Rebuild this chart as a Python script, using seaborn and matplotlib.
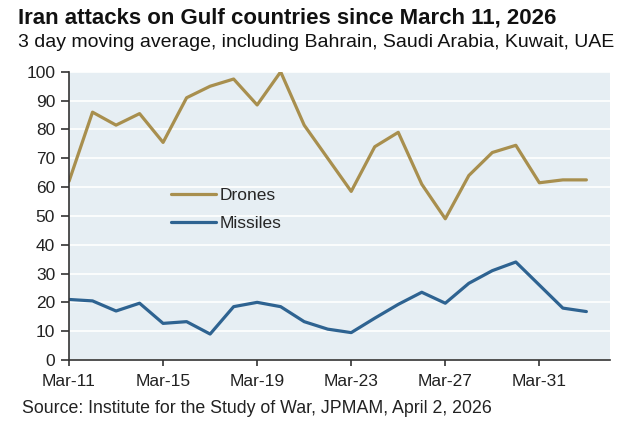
import pandas as pd
import matplotlib
matplotlib.use("Agg")
import matplotlib.pyplot as plt
import matplotlib.dates as mdates
import seaborn as sns

# daily values, Mar 11 - Apr 2 2026 (3 day moving average)
dates = pd.date_range("2026-03-11", "2026-04-02", freq="D")
drones = [62, 86, 81.5, 85.5, 75.5, 91, 95, 97.5, 88.5, 100, 81.5, 70,
          58.5, 74, 79, 61, 49, 64, 72, 74.5, 61.5, 62.5, 62.5]
missiles = [21, 20.5, 17, 19.7, 12.7, 13.3, 9, 18.5, 20, 18.5, 13.3, 10.7,
            9.5, 14.5, 19.3, 23.5, 19.7, 26.6, 31, 34, 26, 18, 16.8]
tick_dates = dates[::4]

df = pd.DataFrame({"date": list(dates) * 2,
                   "value": drones + missiles,
                   "series": ["Drones"] * len(dates) + ["Missiles"] * len(dates)})

sns.set_theme(style="white")
plt.rcParams["font.family"] = ["Liberation Sans", "DejaVu Sans"]

fig = plt.figure(figsize=(6.42, 4.25), dpi=100)
ax = fig.add_axes([0.1075, 0.153, 0.8425, 0.678])

sns.lineplot(data=df, x="date", y="value", hue="series",
             palette={"Drones": "#a88f4e", "Missiles": "#2e6391"},
             linewidth=2.3, ax=ax)

ax.set_facecolor("#e6eef3")
ax.set_ylim(0, 100)
ax.set_yticks(range(0, 101, 10))
ax.set_xlim(dates[0], dates[-1] + pd.Timedelta(days=1))
ax.set_xticks(tick_dates)
ax.xaxis.set_major_formatter(mdates.DateFormatter("%b-%d"))
ax.grid(axis="y", color="white", linewidth=1.2)
ax.set_axisbelow(True)
ax.set_xlabel("")
ax.set_ylabel("")

for s in ["top", "right"]:
    ax.spines[s].set_visible(False)
for s in ["left", "bottom"]:
    ax.spines[s].set_color("#333333")
    ax.spines[s].set_linewidth(1.2)
ax.tick_params(axis="y", left=True, labelsize=12.5, colors="#333333",
               labelcolor="#222222", length=6, width=1.2, direction="out", pad=4)
ax.tick_params(axis="x", bottom=True, labelsize=12.5, colors="#333333",
               labelcolor="#222222", length=4, width=1.2, direction="out", pad=6)

leg = ax.legend(loc="upper left", bbox_to_anchor=(0.16, 0.65), frameon=False,
                fontsize=12.5, handlelength=2.6, handletextpad=0.2,
                labelspacing=0.7)

fig.text(0.028, 0.958, "Iran attacks on Gulf countries since March 11, 2026",
         fontsize=16, fontweight="bold", color="#111111", va="center")
fig.text(0.028, 0.899, "3 day moving average, including Bahrain, Saudi Arabia, Kuwait, UAE",
         fontsize=14, color="#111111", va="center")
fig.text(0.034, 0.038, "Source: Institute for the Study of War, JPMAM, April 2, 2026",
         fontsize=12.8, color="#222222", va="center")

fig.savefig("out.png", dpi=100, facecolor="white")
